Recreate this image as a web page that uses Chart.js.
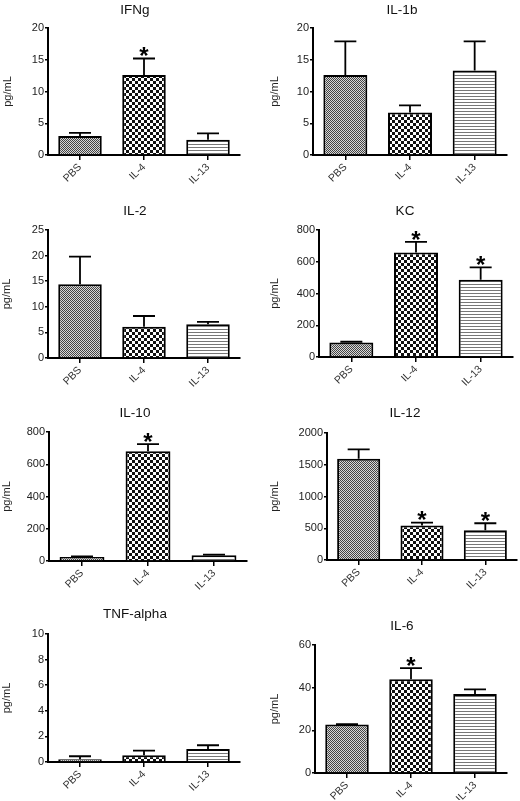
<!DOCTYPE html>
<html><head><meta charset="utf-8">
<script src="https://cdn.jsdelivr.net/npm/chart.js@4.4.0/dist/chart.umd.min.js"></script>
<style>
html,body{margin:0;padding:0;background:#fff;}
#wrap{position:relative;width:520px;height:801px;overflow:hidden;}
#wrap canvas{position:absolute;}
</style></head><body><div id="wrap"></div>
<script>
// ---- data ----
const categories = ['PBS', 'IL-4', 'IL-13'];
const titles = ['IFNg', 'IL-1b', 'IL-2', 'KC', 'IL-10', 'IL-12', 'TNF-alpha', 'IL-6'];
const yTitle = 'pg/mL';

const ifngMean = [3.0, 12.6, 2.4];    const ifngSem = [0.5, 2.6, 1.0];   const ifngSig = [0, 1, 0];
const il1bMean = [12.6, 6.7, 13.3];   const il1bSem = [5.3, 1.1, 4.6];   const il1bSig = [0, 0, 0];
const il2Mean  = [14.4, 6.1, 6.6];    const il2Sem  = [5.4, 2.1, 0.45];  const il2Sig  = [0, 0, 0];
const kcMean   = [92, 658, 486];      const kcSem   = [4, 67, 79];       const kcSig   = [0, 1, 1];
const il10Mean = [25, 680, 35];       const il10Sem = [3, 45, 5];        const il10Sig = [0, 1, 0];
const il12Mean = [1595, 542, 468];    const il12Sem = [147, 48, 111];    const il12Sig = [0, 1, 1];
const tnfMean  = [0.21, 0.52, 1.02];  const tnfSem  = [0.24, 0.37, 0.29];const tnfSig  = [0, 0, 0];
const il6Mean  = [22.7, 43.9, 37.0];  const il6Sem  = [0.2, 5.3, 2.2];   const il6Sig  = [0, 1, 0];

const yMaxTicks = [20, 20, 25, 800, 800, 2000, 10, 60];
const yStepTicks = [5, 5, 5, 200, 200, 500, 2, 20];

const means = [ifngMean, il1bMean, il2Mean, kcMean, il10Mean, il12Mean, tnfMean, il6Mean];
const sems  = [ifngSem, il1bSem, il2Sem, kcSem, il10Sem, il12Sem, tnfSem, il6Sem];
const sigs  = [ifngSig, il1bSig, il2Sig, kcSig, il10Sig, il12Sig, tnfSig, il6Sig];

// ---- layout (canvas-local) ----
const panelPos = [[0,0],[260,0],[0,200],[260,200],[0,400],[260,400],[0,600],[260,600]];
// [left, top, bottom, right] of plot area
const plotBox = [[48,28,155,240],[53,28,155,247],[48,30,158,240],[59,30,157,253],
                 [49,32,161,247],[67,33,160,257],[48,34,162,240],[55,45,173,247]];
const titlePos = [[135,10],[142,10],[135,11],[145,11],[135,13],[145,13],[135,14],[142,26]];
const yTitlePad = [1,8,0,8,0,8,0,8];

Chart.defaults.font.family = "'Liberation Sans', Arial, sans-serif";
Chart.defaults.color = '#222';

function makePatterns(ctx){
  const a = document.createElement('canvas'); a.width = 2; a.height = 2;
  const ga = a.getContext('2d');
  ga.fillStyle = '#d8d8d8'; ga.fillRect(0,0,2,2);
  ga.fillStyle = '#444'; ga.fillRect(0,0,1,1); ga.fillRect(1,1,1,1);
  const b = document.createElement('canvas'); b.width = 6; b.height = 6;
  const gb = b.getContext('2d');
  gb.fillStyle = '#fff'; gb.fillRect(0,0,6,6);
  gb.fillStyle = '#111'; gb.fillRect(0,0,3,3); gb.fillRect(3,3,3,3);
  const c = document.createElement('canvas'); c.width = 3; c.height = 3;
  const gc = c.getContext('2d');
  gc.fillStyle = '#fff'; gc.fillRect(0,0,3,3);
  gc.fillStyle = '#777'; gc.fillRect(0,0,3,1);
  return [ctx.createPattern(a,'repeat'), ctx.createPattern(b,'repeat'), ctx.createPattern(c,'repeat')];
}

const errPlugin = {
  id: 'errbars',
  afterDatasetsDraw(chart, args, opts) {
    const ctx = chart.ctx;
    const meta = chart.getDatasetMeta(0);
    const ys = chart.scales.y;
    ctx.save();
    ctx.strokeStyle = '#000';
    ctx.lineWidth = 1.8;
    meta.data.forEach((el, i) => {
      const m = opts.mean[i], s = opts.sem[i];
      const yT = ys.getPixelForValue(m + s);
      ctx.beginPath();
      ctx.moveTo(el.x, el.y);
      ctx.lineTo(el.x, yT);
      ctx.moveTo(el.x - 11, yT);
      ctx.lineTo(el.x + 11, yT);
      ctx.stroke();
      if (opts.sig[i]) {
        ctx.fillStyle = '#000';
        ctx.font = "bold 24px 'Liberation Sans', Arial, sans-serif";
        ctx.textAlign = 'center';
        ctx.textBaseline = 'alphabetic';
        ctx.fillText('*', el.x, yT - 8 + 0.57 * 24);
      }
    });
    ctx.restore();
  }
};

const titlePlugin = {
  id: 'ptitle',
  afterDraw(chart, args, opts) {
    const ctx = chart.ctx;
    ctx.save();
    ctx.fillStyle = '#111';
    ctx.font = "13.5px 'Liberation Sans', Arial, sans-serif";
    ctx.textAlign = 'center';
    ctx.textBaseline = 'middle';
    ctx.fillText(opts.text, opts.x, opts.y);
    ctx.restore();
  }
};

const wrap = document.getElementById('wrap');
titles.forEach((t, k) => {
  const cv = document.createElement('canvas');
  cv.width = 260; cv.height = 200;
  cv.style.left = panelPos[k][0] + 'px';
  cv.style.top = panelPos[k][1] + 'px';
  cv.style.width = '260px'; cv.style.height = '200px';
  wrap.appendChild(cv);
  const ctx = cv.getContext('2d');
  const pats = makePatterns(ctx);
  const [L, T, B, R] = plotBox[k];
  new Chart(ctx, {
    type: 'bar',
    data: {
      labels: categories,
      datasets: [{
        data: means[k],
        backgroundColor: pats,
        borderColor: '#000',
        borderWidth: 2,
        borderSkipped: 'bottom',
        categoryPercentage: 1.0,
        barPercentage: 0.68
      }]
    },
    options: {
      responsive: false,
      animation: false,
      events: [],
      layout: { padding: { left: 0, top: T, right: 260 - R, bottom: 0 } },
      plugins: {
        legend: { display: false },
        tooltip: { enabled: false },
        errbars: { mean: means[k], sem: sems[k], sig: sigs[k] },
        ptitle: { text: t, x: titlePos[k][0], y: titlePos[k][1] }
      },
      scales: {
        x: {
          grid: { display: true, drawOnChartArea: false, offset: false, color: '#000', lineWidth: 1.5, tickLength: 5 },
          border: { display: true, color: '#000', width: 2 },
          ticks: { minRotation: 45, maxRotation: 45, font: { size: 10.5 }, color: '#333', padding: 1 },
          afterFit: s => { s.height = 200 - B; }
        },
        y: {
          min: 0, max: yMaxTicks[k],
          grid: { display: true, drawOnChartArea: false, color: '#000', lineWidth: 1.5, tickLength: 3 },
          border: { display: true, color: '#000', width: 2 },
          ticks: { stepSize: yStepTicks[k], font: { size: 11 }, color: '#222', padding: 1,
                   callback: v => String(v) },
          title: { display: true, text: yTitle, font: { size: 11 }, color: '#222', padding: { top: yTitlePad[k], bottom: 0 } },
          afterFit: s => { s.width = L; }
        }
      }
    },
    plugins: [errPlugin, titlePlugin]
  });
});
</script>
</body></html>
